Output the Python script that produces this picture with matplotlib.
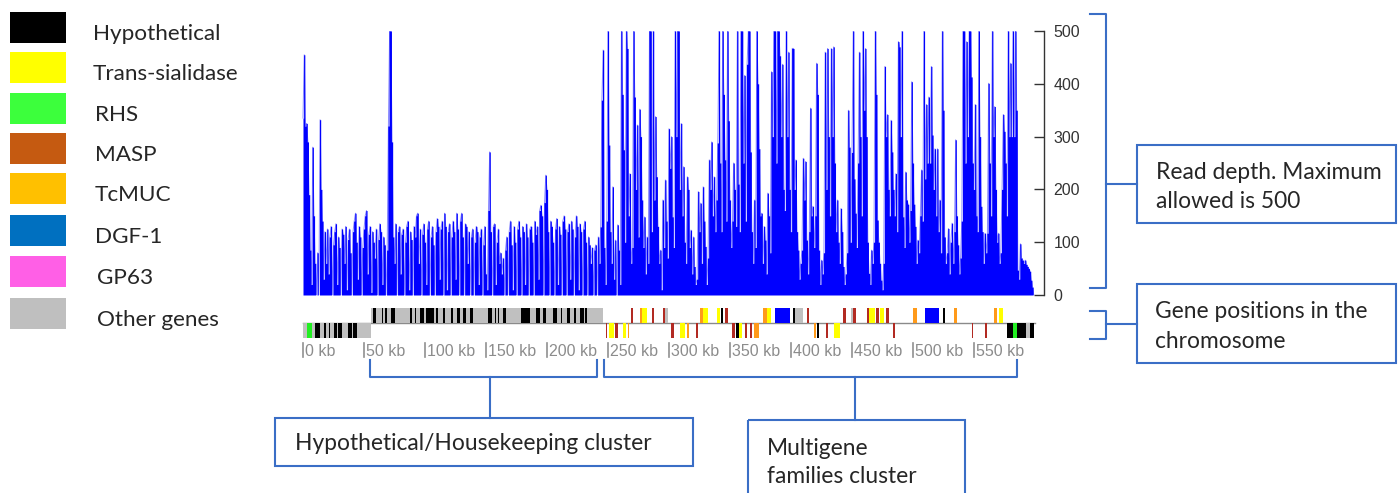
import matplotlib
matplotlib.use("Agg")
import matplotlib.pyplot as plt
from matplotlib.patches import Rectangle
import numpy as np

# ---------------------------------------------------------------- data
# read depth per 1 kb window along the chromosome (capped at 500)
depth = [
    335, 455, 320, 325, 290, 190, 85, 20, 280, 150, 60, 0, 80, 0, 332, 200, 140, 30, 120, 60,
    125, 40, 110, 130, 0, 95, 120, 135, 20, 110, 90, 0, 125, 115, 60, 130, 10, 105, 125, 80,
    0, 120, 140, 155, 100, 30, 130, 110, 0, 90, 125, 150, 160, 40, 115, 130, 5, 120, 100, 70,
    125, 0, 105, 135, 120, 20, 110, 95, 0, 85, 320, 500, 500, 290, 110, 60, 135, 0, 120, 130,
    40, 115, 125, 0, 100, 130, 140, 10, 120, 105, 0, 130, 110, 150, 155, 60, 125, 0, 115, 135,
    100, 20, 125, 140, 0, 110, 130, 95, 0, 120, 145, 130, 30, 125, 140, 0, 155, 130, 10, 120,
    135, 0, 110, 140, 120, 30, 155, 125, 0, 140, 155, 110, 0, 135, 130, 60, 120, 0, 110, 125,
    0, 100, 130, 120, 20, 110, 125, 0, 95, 130, 40, 10, 160, 271, 120, 0, 130, 135, 20, 100,
    125, 60, 80, 40, 70, 0, 85, 110, 0, 120, 140, 95, 10, 130, 100, 0, 125, 140, 110, 0,
    130, 120, 20, 135, 110, 0, 125, 130, 100, 0, 140, 115, 130, 30, 160, 170, 150, 0, 175, 227,
    200, 120, 0, 140, 130, 100, 0, 125, 145, 20, 130, 115, 0, 140, 150, 125, 0, 120, 135, 30,
    140, 125, 0, 110, 150, 130, 10, 135, 120, 0, 125, 140, 100, 0, 110, 95, 60, 90, 0, 85,
    95, 0, 110, 60, 129, 369, 464, 90, 20, 140, 500, 284, 120, 60, 205, 30, 104, 0, 133, 85,
    20, 500, 380, 275, 100, 500, 467, 150, 230, 60, 90, 500, 375, 200, 322, 110, 352, 300, 180, 90,
    148, 40, 110, 60, 500, 500, 120, 500, 180, 338, 224, 130, 60, 85, 10, 180, 90, 218, 140, 70,
    315, 240, 300, 148, 90, 500, 300, 500, 500, 200, 325, 150, 243, 100, 60, 224, 200, 90, 123, 40,
    110, 54, 20, 30, 196, 120, 174, 60, 205, 140, 92, 20, 70, 256, 200, 290, 150, 224, 120, 180,
    288, 500, 250, 120, 500, 380, 256, 140, 500, 330, 180, 90, 140, 250, 200, 130, 500, 210, 120, 500,
    500, 250, 416, 140, 437, 500, 500, 271, 120, 60, 180, 90, 500, 400, 277, 150, 155, 60, 130, 104,
    40, 193, 150, 80, 423, 300, 500, 500, 250, 500, 500, 453, 300, 437, 200, 160, 500, 300, 460, 200,
    120, 467, 467, 200, 256, 120, 85, 30, 60, 85, 259, 180, 253, 104, 40, 120, 354, 150, 168, 90,
    150, 439, 380, 85, 20, 66, 40, 80, 460, 200, 467, 300, 150, 467, 300, 470, 250, 120, 180, 100,
    60, 164, 120, 54, 20, 40, 80, 350, 280, 100, 270, 500, 220, 155, 90, 250, 460, 300, 150, 500,
    350, 467, 300, 100, 41, 20, 85, 60, 100, 500, 380, 142, 100, 60, 28, 10, 60, 433, 300, 342,
    200, 150, 331, 271, 200, 150, 230, 120, 480, 470, 300, 500, 148, 90, 233, 180, 172, 100, 160, 404,
    250, 172, 130, 60, 104, 80, 150, 237, 140, 500, 220, 361, 250, 375, 250, 433, 303, 200, 277, 150,
    277, 120, 180, 80, 500, 350, 110, 60, 80, 126, 40, 100, 136, 60, 120, 294, 150, 95, 40, 70,
    140, 500, 500, 250, 480, 300, 500, 500, 413, 250, 200, 361, 150, 120, 500, 300, 168, 120, 60, 117,
    80, 117, 401, 250, 150, 500, 300, 357, 200, 100, 117, 60, 80, 200, 342, 310, 250, 150, 500, 300,
    439, 300, 500, 300, 500, 350, 47, 30, 97, 70, 66, 60, 66, 58, 54, 50, 45, 28, 15, 0,
]
depth_kb = np.arange(len(depth))

depth_ticks = [0, 100, 200, 300, 400, 500]
kb_ticks = [0, 50, 100, 150, 200, 250, 300, 350, 400, 450, 500, 550]

# gene families (legend)
families = ["Hypothetical", "Trans-sialidase", "RHS", "MASP", "TcMUC",
            "DGF-1", "GP63", "Other genes"]

# annotated genes: start (kb), end (kb), family code, strand
gene_start = [
    # 0-56 kb, reverse strand
    0, 3, 7, 10, 14, 17, 19, 21, 22.5, 25, 28, 29, 32, 37, 40, 41, 44,
    # housekeeping block, forward strand
    56, 57, 59.5, 64.5, 65.5, 67.5, 68.5, 72, 75, 87.5, 89, 91.5, 93, 96, 99, 101,
    107, 109, 111, 114.5, 116, 121.5, 123, 126, 129, 131, 134, 137, 139.5, 152,
    155, 157, 158, 160, 161, 164, 166.5, 179, 186, 191, 194, 197, 199.5, 205,
    208, 211.5, 212.5, 216, 219, 222.5, 223.5, 227, 230, 231, 232.5,
    # multigene families, forward strand
    269, 276, 278, 286, 295, 297, 325, 328, 339, 342.5, 346, 377, 380, 387,
    401.5, 403.5, 413, 443, 449, 451, 462, 464, 470, 473, 478, 500, 510, 524.5,
    534, 566, 570.5,
    # multigene families, reverse strand
    248, 250.5, 256, 262, 266, 302, 309, 314.5, 322, 352, 355, 357, 362.5,
    366.5, 370, 418.5, 421, 429, 435, 484, 548, 559, 577, 582, 585.5, 593, 596,
]
gene_end = [
    3, 7, 10, 14, 17, 19, 21, 22.5, 25, 28, 29, 32, 37, 40, 41, 44, 56,
    57, 59.5, 64.5, 65.5, 67.5, 68.5, 72, 75, 87.5, 89, 91.5, 93, 96, 99, 101,
    107, 109, 111, 114.5, 116, 121.5, 123, 126, 129, 131, 134, 137, 139.5, 152,
    155, 157, 158, 160, 161, 164, 166.5, 179, 186, 191, 194, 197, 199.5, 205,
    208, 211.5, 212.5, 216, 219, 222.5, 223.5, 227, 230, 231, 232.5, 246,
    270.5, 278, 282, 287.5, 296.5, 299.5, 328, 332, 342, 344.5, 348, 380, 384,
    399, 403.5, 410, 415, 445, 450.5, 453, 464, 469, 472, 476, 480, 503, 521,
    526, 536, 569, 573.5,
    249.5, 255, 258, 265, 267.5, 304, 313, 316.5, 324, 354, 357, 359.5, 364,
    368, 373.5, 420.5, 423, 430.5, 440, 485.5, 549.5, 561, 582, 585.5, 592.5,
    596, 599,
]
gene_type = [
    "O", "R", "O", "H", "O", "H", "O", "H", "O", "H", "O", "H", "O", "H", "O", "H", "O",
    "O", "H", "O", "H", "O", "H", "O", "H", "O", "H", "O", "H", "O", "H", "O", "H",
    "O", "H", "O", "H", "O", "H", "O", "H", "O", "H", "O", "H", "O", "H",
    "O", "H", "O", "H", "O", "H", "O", "H", "O", "H", "O", "H", "O", "H",
    "O", "H", "O", "H", "O", "H", "O", "H", "O", "H", "O",
    "M", "C", "TS", "M", "M", "O", "C", "TS", "TS", "H", "M", "C", "TS", "D",
    "H", "O", "M", "M", "O", "M", "M", "TS", "M", "TS", "M", "C", "D", "H",
    "C", "C", "TS",
    "M", "TS", "M", "TS", "C", "M", "TS", "C", "M", "M", "H", "TS", "M",
    "M", "C", "C", "H", "M", "TS", "M", "M", "M", "H", "R", "H", "O", "H",
]
gene_strand = (["-"] * 17 + ["+"] * 55 + ["+"] * 31 + ["-"] * 27)

# ---------------------------------------------------------------- style
W, H, DPI = 1399, 493, 100
legend_colors = ["#000000", "#ffff00", "#3cff3c", "#c55a11", "#ffc000",
                 "#0070c0", "#ff5fe6", "#bfbfbf"]
track_colors = {"H": "#000000", "TS": "#ffff00", "R": "#22ee22", "M": "#b22a22",
                "C": "#ff9a1a", "D": "#0000ff", "G": "#ff5fe6", "O": "#c0c0c0"}
DEPTH_BLUE = "#0000ff"
NOTE_BLUE = "#3a6ec6"
TXT = "#262626"
TEXT_FONT = ["Lato", "DejaVu Sans"]
AXIS_FONT = ["Liberation Sans", "DejaVu Sans"]
LEG_FS = 16.2
NOTE_FS = 16.4

PX0, PX_PER_KB = 303.0, 1.22           # position of 0 kb and scale
AX_LEFT, AX_RIGHT = 300, 1044
XMIN = (AX_LEFT - PX0) / PX_PER_KB
XMAX = (AX_RIGHT - PX0) / PX_PER_KB


def box(x0, y0, x1, y1):
    """Figure rectangle from pixel edges (origin top-left)."""
    return [x0 / W, 1 - y1 / H, (x1 - x0) / W, (y1 - y0) / H]


fig = plt.figure(figsize=(W / DPI, H / DPI), dpi=DPI)

# ---------------------------------------------------------------- read depth
ax = fig.add_axes(box(AX_LEFT, 31, AX_RIGHT, 295))
ax.fill_between(depth_kb, depth, 0, step="mid", color=DEPTH_BLUE, lw=0)
ax.plot(depth_kb, depth, color=DEPTH_BLUE, lw=0.7, alpha=0.45)
ax.set_xlim(XMIN, XMAX)
ax.set_ylim(0, 500)
for s in ("top", "left", "bottom"):
    ax.spines[s].set_visible(False)
ax.spines["right"].set_color("#333333")
ax.spines["right"].set_linewidth(1.0)
ax.set_xticks([])
ax.yaxis.tick_right()
ax.set_yticks(depth_ticks)
ax.tick_params(axis="y", direction="in", length=7, width=1.0, color="#333333",
               pad=7, labelsize=11.5, labelcolor="#333333")
for lab in ax.get_yticklabels():
    lab.set_family(AXIS_FONT)
ax.patch.set_visible(False)

# ---------------------------------------------------------------- gene track
gx = fig.add_axes(box(AX_LEFT, 300, AX_RIGHT, 362))
gx.set_xlim(XMIN, XMAX)
gx.set_ylim(39, -23)   # pixel offsets from the strand line
gx.axis("off")
gx.plot([0, 600], [0, 0], color="#8a8a8a", lw=1.0, zorder=1)
for s, e, t, st in zip(gene_start, gene_end, gene_type, gene_strand):
    y0 = -15 if st == "+" else 0
    w = max(e - s, 1.2)
    gx.add_patch(Rectangle((s, y0), w, 15, facecolor=track_colors[t],
                           edgecolor="none", zorder=2))
for t in kb_ticks:
    gx.plot([t, t], [20, 34], color="#909090", lw=1.2)
    gx.text(t + 1.5, 28, f"{t} kb", ha="left", va="center", fontsize=11.5,
            color="#8c8c8c", family=AXIS_FONT)

# ---------------------------------------------------------------- annotations
ov = fig.add_axes([0, 0, 1, 1])
ov.set_xlim(0, W)
ov.set_ylim(H, 0)
ov.axis("off")

# legend of gene families
sw_top = [12, 52, 93, 133, 173, 215, 256, 298]
txt_x = [93, 93, 95, 95, 95, 95, 97, 97]
for lab, col, y, tx in zip(families, legend_colors, sw_top, txt_x):
    ov.add_patch(Rectangle((10, y), 56, 31, facecolor=col, edgecolor="none"))
    ov.text(tx, y + 28, lab, ha="left", va="baseline", fontsize=LEG_FS,
            color=TXT, family=TEXT_FONT)

lw = 1.5
# bracket for the read-depth panel
ov.plot([1090, 1106, 1106, 1090], [14, 14, 288, 288], color=NOTE_BLUE, lw=lw)
ov.plot([1106, 1137], [184, 184], color=NOTE_BLUE, lw=lw)
ov.add_patch(Rectangle((1137, 145), 259, 78, fill=False, edgecolor=NOTE_BLUE, lw=lw))
ov.text(1156, 179, "Read depth. Maximum", fontsize=NOTE_FS, color=TXT,
        family=TEXT_FONT, va="baseline")
ov.text(1156, 208, "allowed is 500", fontsize=NOTE_FS, color=TXT,
        family=TEXT_FONT, va="baseline")

# bracket for the gene track
ov.plot([1090, 1106, 1106, 1090], [311, 311, 339, 339], color=NOTE_BLUE, lw=lw)
ov.plot([1106, 1137], [324, 324], color=NOTE_BLUE, lw=lw)
ov.add_patch(Rectangle((1137, 284), 259, 79, fill=False, edgecolor=NOTE_BLUE, lw=lw))
ov.text(1155, 318, "Gene positions in the", fontsize=NOTE_FS, color=TXT,
        family=TEXT_FONT, va="baseline")
ov.text(1155, 348, "chromosome", fontsize=NOTE_FS, color=TXT,
        family=TEXT_FONT, va="baseline")

# cluster brackets under the kb scale
ov.plot([370, 370, 597, 597], [360, 377, 377, 360], color=NOTE_BLUE, lw=lw)
ov.plot([490, 490], [377, 418], color=NOTE_BLUE, lw=lw)
ov.add_patch(Rectangle((275, 418), 418, 48, fill=False, edgecolor=NOTE_BLUE, lw=lw))
ov.text(295, 450, "Hypothetical/Housekeeping cluster", fontsize=NOTE_FS, color=TXT,
        family=TEXT_FONT, va="baseline")

ov.plot([604, 604, 1017, 1017], [360, 377, 377, 360], color=NOTE_BLUE, lw=lw)
ov.plot([855, 855], [377, 420], color=NOTE_BLUE, lw=lw)
ov.add_patch(Rectangle((748, 420), 217, 90, fill=False, edgecolor=NOTE_BLUE,
                       lw=lw, clip_on=True))
ov.text(767, 455, "Multigene", fontsize=NOTE_FS, color=TXT, family=TEXT_FONT,
        va="baseline")
ov.text(767, 483, "families cluster", fontsize=NOTE_FS, color=TXT, family=TEXT_FONT,
        va="baseline")

fig.savefig("out.png", dpi=DPI)
